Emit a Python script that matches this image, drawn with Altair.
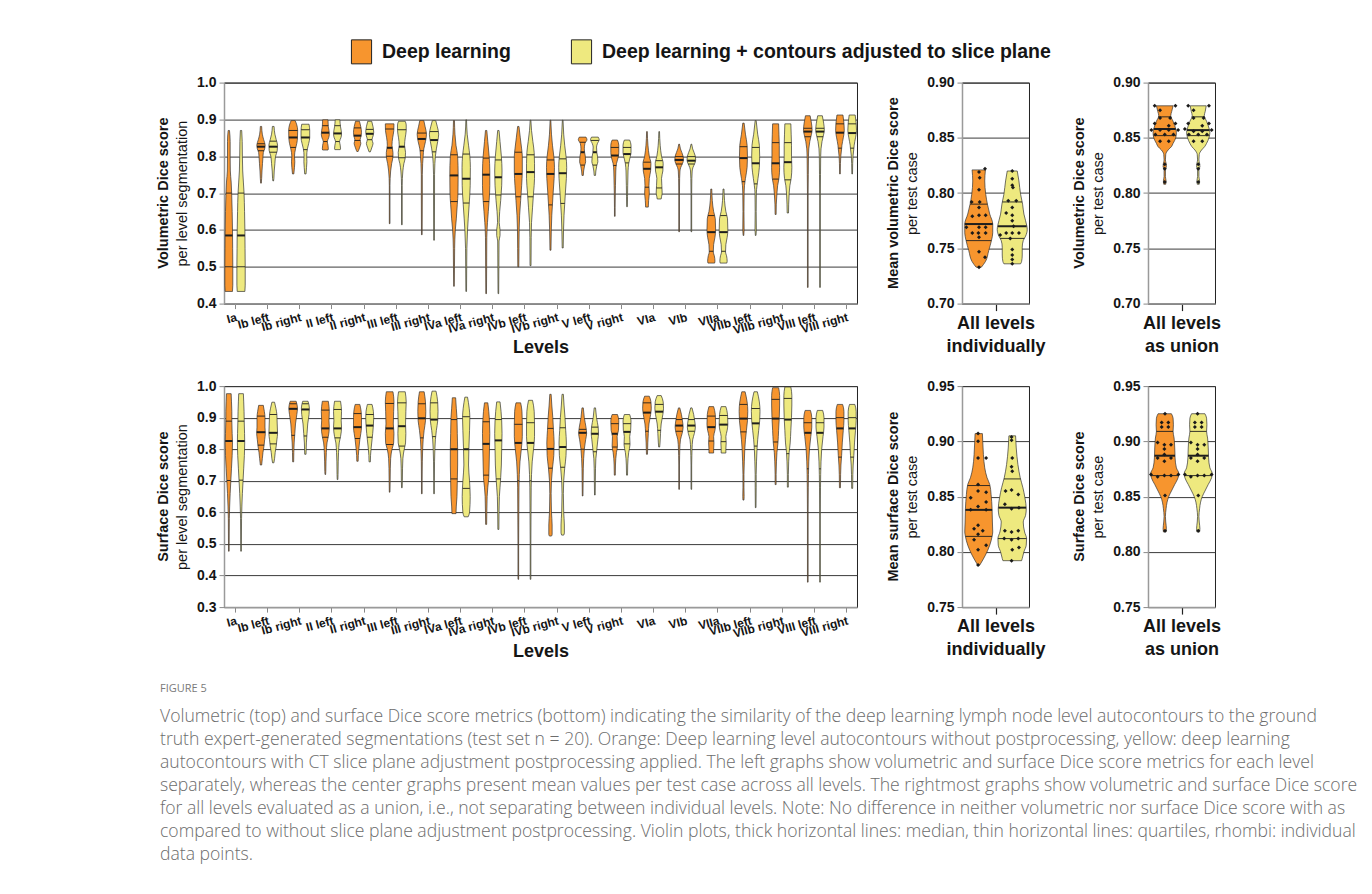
import altair as alt
import numpy as np
import pandas as pd

# ---------------------------------------------------------------- data
LEVELS = ["Ia", "Ib left", "Ib right", "II left", "II right", "III left", "III right",
          "IVa left", "IVa right", "IVb left", "IVb right", "V left", "V right",
          "VIa", "VIb", "VIIa", "VIIb left", "VIIb right", "VIII left", "VIII right"]
SERIES = ["Deep learning", "Deep learning + contours adjusted to slice plane"]
COLORS = ["#F7952E", "#EEE97F"]

# violin outlines: (score, relative violin width)
VOL_DL = {
    "Ia": [(0.870, 4), (0.84, 8), (0.80, 8), (0.76, 9), (0.73, 14), (0.70, 17), (0.65, 20), (0.60, 22), (0.55, 23), (0.50, 24), (0.45, 24), (0.433, 22)],
    "Ib left": [(0.881, 4), (0.86, 8), (0.845, 16), (0.83, 25), (0.82, 22), (0.81, 14), (0.80, 12), (0.78, 9), (0.76, 6), (0.74, 4), (0.727, 2)],
    "Ib right": [(0.897, 12), (0.885, 22), (0.87, 27), (0.85, 26), (0.835, 22), (0.82, 14), (0.80, 8), (0.785, 10), (0.77, 8), (0.752, 4)],
    "II left": [(0.899, 16), (0.88, 18), (0.87, 22), (0.86, 24), (0.85, 20), (0.84, 12), (0.83, 16), (0.82, 18), (0.817, 16)],
    "II right": [(0.895, 12), (0.88, 20), (0.865, 24), (0.855, 22), (0.845, 16), (0.835, 20), (0.825, 14), (0.815, 6), (0.813, 4)],
    "III left": [(0.888, 26), (0.87, 25), (0.85, 18), (0.83, 14), (0.81, 20), (0.80, 20), (0.78, 12), (0.76, 6), (0.74, 3), (0.72, 2), (0.617, 2)],
    "III right": [(0.897, 12), (0.88, 20), (0.86, 28), (0.84, 22), (0.82, 12), (0.80, 8), (0.78, 5), (0.75, 3), (0.70, 3), (0.587, 2)],
    "IVa left": [(0.897, 3), (0.86, 6), (0.83, 12), (0.80, 22), (0.75, 25), (0.70, 24), (0.67, 20), (0.63, 14), (0.60, 8), (0.55, 4), (0.50, 3), (0.447, 2)],
    "IVa right": [(0.870, 4), (0.84, 10), (0.80, 18), (0.76, 22), (0.72, 22), (0.68, 18), (0.62, 8), (0.58, 4), (0.50, 3), (0.427, 2)],
    "IVb left": [(0.881, 4), (0.85, 12), (0.82, 20), (0.80, 24), (0.76, 24), (0.72, 20), (0.68, 14), (0.64, 8), (0.60, 5), (0.55, 4), (0.50, 3)],
    "IVb right": [(0.898, 2), (0.86, 6), (0.83, 12), (0.80, 20), (0.77, 24), (0.74, 22), (0.70, 16), (0.67, 12), (0.64, 8), (0.60, 5), (0.545, 3)],
    "V left": [(0.852, 20), (0.845, 26), (0.835, 14), (0.82, 10), (0.81, 12), (0.80, 16), (0.785, 18), (0.775, 12), (0.76, 6), (0.748, 4)],
    "V right": [(0.844, 16), (0.83, 24), (0.81, 24), (0.80, 22), (0.78, 10), (0.76, 6), (0.72, 4), (0.70, 3), (0.66, 2), (0.637, 2)],
    "VIa": [(0.867, 2), (0.83, 6), (0.80, 14), (0.78, 24), (0.76, 22), (0.74, 14), (0.72, 12), (0.70, 14), (0.68, 10), (0.662, 8)],
    "VIb": [(0.833, 2), (0.82, 8), (0.80, 24), (0.79, 26), (0.78, 20), (0.77, 10), (0.76, 5), (0.74, 3), (0.70, 2), (0.595, 2)],
    "VIIa": [(0.711, 3), (0.68, 6), (0.65, 14), (0.63, 24), (0.60, 26), (0.58, 22), (0.56, 14), (0.54, 12), (0.53, 18), (0.515, 22), (0.510, 20)],
    "VIIb left": [(0.890, 4), (0.86, 12), (0.83, 22), (0.80, 24), (0.77, 22), (0.74, 12), (0.72, 6), (0.70, 4), (0.65, 3), (0.60, 4), (0.585, 2)],
    "VIIb right": [(0.888, 18), (0.86, 20), (0.83, 22), (0.80, 22), (0.77, 24), (0.74, 20), (0.72, 12), (0.70, 8), (0.67, 4), (0.642, 3)],
    "VIII left": [(0.910, 14), (0.89, 22), (0.87, 26), (0.86, 22), (0.84, 12), (0.82, 6), (0.80, 4), (0.75, 3), (0.70, 2), (0.444, 2)],
    "VIII right": [(0.912, 18), (0.89, 24), (0.87, 26), (0.85, 20), (0.83, 12), (0.82, 10), (0.80, 5), (0.78, 3), (0.752, 2)],
}
VOL_ADJ = {
    "Ia": [(0.870, 4), (0.84, 7), (0.80, 8), (0.76, 10), (0.73, 14), (0.70, 18), (0.65, 21), (0.60, 23), (0.55, 24), (0.50, 25), (0.45, 25), (0.433, 23)],
    "Ib left": [(0.881, 5), (0.86, 10), (0.845, 18), (0.83, 26), (0.815, 24), (0.80, 14), (0.78, 10), (0.76, 6), (0.74, 4), (0.733, 2)],
    "Ib right": [(0.887, 22), (0.87, 26), (0.85, 26), (0.835, 20), (0.82, 12), (0.80, 8), (0.785, 9), (0.77, 7), (0.752, 4)],
    "II left": [(0.899, 14), (0.88, 18), (0.87, 22), (0.86, 24), (0.85, 20), (0.84, 12), (0.83, 16), (0.82, 18), (0.818, 16)],
    "II right": [(0.895, 12), (0.88, 20), (0.865, 24), (0.855, 20), (0.845, 14), (0.835, 20), (0.825, 14), (0.812, 4)],
    "III left": [(0.895, 20), (0.885, 26), (0.87, 26), (0.85, 20), (0.83, 16), (0.81, 22), (0.795, 20), (0.78, 12), (0.76, 6), (0.74, 3), (0.72, 2), (0.614, 2)],
    "III right": [(0.897, 10), (0.88, 20), (0.86, 28), (0.84, 22), (0.82, 14), (0.80, 8), (0.78, 5), (0.75, 3), (0.70, 3), (0.572, 2)],
    "IVa left": [(0.899, 2), (0.86, 6), (0.83, 14), (0.80, 22), (0.77, 25), (0.72, 24), (0.67, 18), (0.63, 12), (0.60, 8), (0.55, 4), (0.50, 3), (0.433, 2)],
    "IVa right": [(0.870, 4), (0.84, 10), (0.80, 18), (0.76, 22), (0.72, 20), (0.68, 14), (0.65, 8), (0.62, 5), (0.60, 10), (0.585, 10), (0.57, 4), (0.50, 3), (0.427, 2)],
    "IVb left": [(0.898, 2), (0.87, 6), (0.84, 14), (0.81, 22), (0.78, 24), (0.74, 24), (0.70, 18), (0.66, 12), (0.62, 6), (0.58, 4), (0.503, 3)],
    "IVb right": [(0.898, 2), (0.86, 6), (0.83, 12), (0.80, 20), (0.77, 24), (0.74, 22), (0.70, 16), (0.67, 12), (0.64, 8), (0.60, 5), (0.551, 3)],
    "V left": [(0.852, 20), (0.845, 26), (0.835, 16), (0.825, 10), (0.81, 12), (0.80, 16), (0.785, 18), (0.775, 12), (0.76, 6), (0.748, 4)],
    "V right": [(0.844, 16), (0.83, 24), (0.81, 24), (0.80, 20), (0.78, 10), (0.76, 6), (0.72, 4), (0.69, 3), (0.663, 2)],
    "VIa": [(0.867, 2), (0.83, 6), (0.80, 14), (0.78, 24), (0.76, 22), (0.74, 14), (0.72, 16), (0.70, 18), (0.69, 14), (0.684, 12)],
    "VIb": [(0.833, 2), (0.82, 8), (0.80, 24), (0.79, 26), (0.78, 20), (0.77, 10), (0.76, 5), (0.74, 3), (0.70, 2), (0.595, 2)],
    "VIIa": [(0.711, 3), (0.68, 6), (0.65, 14), (0.63, 24), (0.60, 26), (0.58, 22), (0.56, 14), (0.54, 12), (0.53, 18), (0.515, 22), (0.510, 20)],
    "VIIb left": [(0.897, 3), (0.86, 12), (0.83, 22), (0.80, 24), (0.77, 22), (0.74, 14), (0.72, 8), (0.70, 4), (0.65, 3), (0.60, 4), (0.585, 2)],
    "VIIb right": [(0.888, 18), (0.86, 20), (0.83, 22), (0.80, 22), (0.77, 24), (0.74, 20), (0.72, 12), (0.70, 8), (0.67, 5), (0.646, 4)],
    "VIII left": [(0.910, 14), (0.89, 22), (0.87, 26), (0.86, 22), (0.84, 12), (0.82, 6), (0.80, 4), (0.75, 3), (0.70, 2), (0.444, 2)],
    "VIII right": [(0.912, 18), (0.89, 24), (0.87, 26), (0.85, 20), (0.83, 12), (0.82, 10), (0.80, 5), (0.78, 3), (0.752, 2)],
}
# (first quartile, median, third quartile)
VOL_DL_Q = {
    "Ia": (0.50, 0.585, 0.70), "Ib left": (0.815, 0.826, 0.834), "Ib right": (0.824, 0.851, 0.870),
    "II left": (0.840, 0.864, 0.883), "II right": (0.843, 0.856, 0.877), "III left": (0.800, 0.823, 0.874),
    "III right": (0.815, 0.847, 0.863), "IVa left": (0.677, 0.748, 0.804), "IVa right": (0.677, 0.750, 0.795),
    "IVb left": (0.690, 0.752, 0.811), "IVb right": (0.668, 0.752, 0.790), "V left": (0.776, 0.811, 0.838),
    "V right": (0.775, 0.802, 0.824), "VIa": (0.716, 0.766, 0.784), "VIb": (0.779, 0.790, 0.799),
    "VIIa": (0.542, 0.594, 0.639), "VIIb left": (0.731, 0.795, 0.826), "VIIb right": (0.738, 0.781, 0.837),
    "VIII left": (0.853, 0.867, 0.876), "VIII right": (0.822, 0.864, 0.888),
}
VOL_ADJ_Q = {
    "Ia": (0.50, 0.585, 0.70), "Ib left": (0.811, 0.826, 0.841), "Ib right": (0.818, 0.851, 0.872),
    "II left": (0.840, 0.862, 0.883), "II right": (0.845, 0.861, 0.873), "III left": (0.796, 0.826, 0.872),
    "III right": (0.812, 0.844, 0.867), "IVa left": (0.673, 0.739, 0.806), "IVa right": (0.695, 0.743, 0.790),
    "IVb left": (0.690, 0.757, 0.804), "IVb right": (0.672, 0.754, 0.793), "V left": (0.776, 0.811, 0.843),
    "V right": (0.782, 0.806, 0.824), "VIa": (0.714, 0.770, 0.788), "VIb": (0.779, 0.788, 0.799),
    "VIIa": (0.542, 0.594, 0.639), "VIIb left": (0.725, 0.781, 0.824), "VIIb right": (0.736, 0.784, 0.837),
    "VIII left": (0.853, 0.867, 0.876), "VIII right": (0.822, 0.863, 0.888),
}

SURF_DL = {
    "Ia": [(0.976, 14), (0.95, 16), (0.92, 18), (0.89, 18), (0.85, 20), (0.82, 22), (0.78, 20), (0.74, 16), (0.70, 12), (0.66, 8), (0.62, 5), (0.58, 3), (0.50, 2), (0.477, 2)],
    "Ib left": [(0.939, 14), (0.92, 20), (0.90, 24), (0.87, 24), (0.85, 26), (0.83, 22), (0.81, 18), (0.79, 12), (0.77, 8), (0.750, 4)],
    "Ib right": [(0.952, 18), (0.93, 26), (0.91, 22), (0.88, 14), (0.85, 10), (0.82, 6), (0.79, 4), (0.760, 3)],
    "II left": [(0.952, 18), (0.92, 24), (0.89, 22), (0.87, 24), (0.84, 18), (0.82, 10), (0.79, 6), (0.76, 4), (0.73, 3), (0.720, 2)],
    "II right": [(0.942, 14), (0.92, 22), (0.90, 24), (0.87, 24), (0.85, 20), (0.83, 14), (0.80, 8), (0.78, 5), (0.762, 4)],
    "III left": [(0.982, 20), (0.95, 26), (0.92, 24), (0.88, 22), (0.85, 26), (0.82, 24), (0.80, 14), (0.77, 6), (0.74, 4), (0.70, 3), (0.664, 2)],
    "III right": [(0.982, 14), (0.95, 22), (0.92, 24), (0.89, 22), (0.86, 14), (0.83, 8), (0.80, 5), (0.76, 3), (0.70, 2), (0.659, 2)],
    "IVa left": [(0.963, 10), (0.93, 14), (0.90, 18), (0.85, 20), (0.80, 22), (0.75, 22), (0.70, 20), (0.65, 18), (0.62, 14), (0.596, 12)],
    "IVa right": [(0.947, 10), (0.92, 16), (0.89, 20), (0.85, 22), (0.80, 20), (0.75, 18), (0.71, 16), (0.68, 10), (0.65, 6), (0.60, 4), (0.562, 3)],
    "IVb left": [(0.947, 14), (0.92, 22), (0.88, 24), (0.84, 24), (0.80, 18), (0.76, 10), (0.72, 6), (0.68, 4), (0.60, 3), (0.50, 2), (0.388, 2)],
    "IVb right": [(0.974, 4), (0.94, 8), (0.90, 14), (0.86, 18), (0.82, 22), (0.78, 20), (0.74, 12), (0.70, 6), (0.66, 4), (0.60, 6), (0.56, 10), (0.53, 10), (0.525, 6)],
    "V left": [(0.931, 4), (0.90, 10), (0.87, 20), (0.85, 24), (0.83, 18), (0.80, 10), (0.77, 6), (0.74, 4), (0.70, 3), (0.652, 2)],
    "V right": [(0.910, 16), (0.89, 24), (0.86, 22), (0.84, 14), (0.81, 16), (0.79, 10), (0.77, 6), (0.75, 4), (0.718, 3)],
    "VIa": [(0.968, 14), (0.95, 24), (0.93, 26), (0.91, 22), (0.88, 12), (0.85, 8), (0.82, 5), (0.80, 4), (0.784, 3)],
    "VIb": [(0.931, 4), (0.91, 14), (0.89, 20), (0.87, 24), (0.85, 18), (0.83, 8), (0.80, 4), (0.78, 3), (0.75, 2), (0.673, 2)],
    "VIIa": [(0.935, 14), (0.91, 24), (0.88, 26), (0.86, 22), (0.84, 14), (0.82, 16), (0.80, 14), (0.788, 14)],
    "VIIb left": [(0.982, 10), (0.95, 22), (0.92, 26), (0.89, 24), (0.86, 18), (0.83, 12), (0.80, 8), (0.76, 5), (0.72, 3), (0.68, 3), (0.65, 4), (0.639, 3)],
    "VIIb right": [(0.995, 18), (0.97, 24), (0.94, 24), (0.90, 22), (0.86, 18), (0.82, 14), (0.79, 8), (0.76, 5), (0.72, 3), (0.688, 3)],
    "VIII left": [(0.923, 16), (0.90, 24), (0.87, 24), (0.84, 18), (0.80, 10), (0.76, 6), (0.72, 4), (0.68, 3), (0.60, 2), (0.50, 2), (0.379, 2)],
    "VIII right": [(0.942, 16), (0.92, 24), (0.89, 24), (0.86, 20), (0.82, 14), (0.78, 10), (0.75, 6), (0.72, 4), (0.678, 3)],
}
SURF_ADJ = {
    "Ia": [(0.976, 14), (0.95, 16), (0.92, 18), (0.89, 19), (0.85, 21), (0.82, 22), (0.78, 20), (0.74, 16), (0.70, 12), (0.66, 8), (0.62, 5), (0.58, 3), (0.50, 2), (0.477, 2)],
    "Ib left": [(0.949, 8), (0.93, 16), (0.91, 22), (0.88, 24), (0.85, 26), (0.83, 22), (0.81, 18), (0.79, 12), (0.77, 8), (0.757, 4)],
    "Ib right": [(0.952, 16), (0.93, 24), (0.91, 22), (0.88, 14), (0.85, 10), (0.82, 6), (0.784, 4)],
    "II left": [(0.952, 18), (0.92, 24), (0.89, 22), (0.87, 24), (0.84, 18), (0.82, 10), (0.79, 6), (0.76, 4), (0.72, 3), (0.704, 2)],
    "II right": [(0.942, 14), (0.92, 22), (0.90, 24), (0.875, 22), (0.85, 18), (0.83, 14), (0.80, 8), (0.78, 5), (0.760, 4)],
    "III left": [(0.982, 20), (0.95, 26), (0.92, 24), (0.88, 22), (0.85, 24), (0.82, 22), (0.80, 14), (0.77, 6), (0.74, 4), (0.70, 3), (0.678, 2)],
    "III right": [(0.984, 12), (0.95, 22), (0.92, 24), (0.89, 22), (0.86, 14), (0.83, 8), (0.80, 5), (0.76, 3), (0.70, 2), (0.659, 2)],
    "IVa left": [(0.965, 8), (0.93, 18), (0.90, 22), (0.86, 20), (0.80, 16), (0.75, 14), (0.70, 20), (0.65, 24), (0.60, 20), (0.586, 12)],
    "IVa right": [(0.950, 10), (0.92, 16), (0.89, 20), (0.85, 22), (0.80, 20), (0.75, 18), (0.71, 14), (0.68, 10), (0.65, 6), (0.60, 4), (0.546, 3)],
    "IVb left": [(0.955, 12), (0.92, 22), (0.88, 24), (0.84, 24), (0.80, 18), (0.76, 10), (0.72, 6), (0.68, 4), (0.60, 3), (0.50, 2), (0.388, 2)],
    "IVb right": [(0.974, 4), (0.94, 8), (0.90, 14), (0.86, 18), (0.82, 22), (0.78, 20), (0.74, 12), (0.70, 6), (0.66, 4), (0.60, 6), (0.56, 10), (0.535, 10), (0.528, 6)],
    "V left": [(0.931, 4), (0.90, 10), (0.87, 20), (0.85, 22), (0.83, 18), (0.80, 12), (0.77, 6), (0.74, 4), (0.70, 3), (0.655, 2)],
    "V right": [(0.910, 16), (0.89, 24), (0.86, 22), (0.84, 16), (0.815, 18), (0.79, 10), (0.77, 6), (0.75, 4), (0.718, 3)],
    "VIa": [(0.970, 12), (0.95, 24), (0.93, 26), (0.91, 22), (0.88, 12), (0.85, 8), (0.82, 5), (0.807, 3)],
    "VIb": [(0.931, 4), (0.91, 14), (0.89, 20), (0.87, 24), (0.85, 18), (0.83, 8), (0.80, 4), (0.78, 3), (0.75, 2), (0.673, 2)],
    "VIIa": [(0.935, 14), (0.91, 24), (0.88, 26), (0.86, 22), (0.84, 14), (0.82, 16), (0.80, 14), (0.788, 14)],
    "VIIb left": [(0.982, 10), (0.95, 22), (0.92, 26), (0.89, 24), (0.86, 18), (0.83, 12), (0.80, 8), (0.76, 5), (0.72, 3), (0.68, 3), (0.615, 2)],
    "VIIb right": [(0.997, 18), (0.97, 24), (0.94, 24), (0.90, 22), (0.86, 18), (0.82, 14), (0.79, 8), (0.76, 5), (0.72, 3), (0.680, 3)],
    "VIII left": [(0.923, 16), (0.90, 24), (0.87, 24), (0.84, 18), (0.80, 10), (0.76, 6), (0.72, 4), (0.68, 3), (0.60, 2), (0.50, 2), (0.379, 2)],
    "VIII right": [(0.942, 16), (0.92, 24), (0.89, 24), (0.86, 20), (0.82, 14), (0.78, 10), (0.75, 6), (0.72, 4), (0.676, 3)],
}
SURF_DL_Q = {
    "Ia": (0.701, 0.826, 0.889), "Ib left": (0.813, 0.854, 0.905), "Ib right": (0.844, 0.928, 0.944),
    "II left": (0.838, 0.866, 0.924), "II right": (0.834, 0.870, 0.913), "III left": (0.815, 0.866, 0.945),
    "III right": (0.836, 0.898, 0.944), "IVa left": (0.706, 0.800, 0.894), "IVa right": (0.718, 0.817, 0.887),
    "IVb left": (0.700, 0.820, 0.879), "IVb right": (0.740, 0.801, 0.866), "V left": (0.800, 0.852, 0.863),
    "V right": (0.807, 0.849, 0.881), "VIa": (0.857, 0.916, 0.947), "VIb": (0.857, 0.875, 0.894),
    "VIIa": (0.826, 0.870, 0.905), "VIIb left": (0.855, 0.897, 0.942), "VIIb right": (0.823, 0.897, 0.958),
    "VIII left": (0.738, 0.852, 0.884), "VIII right": (0.775, 0.866, 0.900),
}
SURF_ADJ_Q = {
    "Ia": (0.702, 0.826, 0.889), "Ib left": (0.817, 0.852, 0.910), "Ib right": (0.842, 0.926, 0.944),
    "II left": (0.836, 0.866, 0.926), "II right": (0.838, 0.875, 0.910), "III left": (0.810, 0.873, 0.947),
    "III right": (0.840, 0.894, 0.947), "IVa left": (0.676, 0.800, 0.903), "IVa right": (0.706, 0.828, 0.894),
    "IVb left": (0.700, 0.820, 0.884), "IVb right": (0.743, 0.807, 0.868), "V left": (0.792, 0.849, 0.870),
    "V right": (0.817, 0.855, 0.881), "VIa": (0.860, 0.919, 0.942), "VIb": (0.857, 0.875, 0.894),
    "VIIa": (0.824, 0.878, 0.907), "VIIb left": (0.810, 0.882, 0.929), "VIIb right": (0.786, 0.894, 0.961),
    "VIII left": (0.738, 0.852, 0.884), "VIII right": (0.775, 0.866, 0.900),
}

# per-test-case summaries (center and right columns)
MEAN_VOL_DL = [(0.821, 40), (0.811, 36), (0.799, 42), (0.790, 52), (0.781, 66), (0.772, 84), (0.764, 84), (0.757, 76), (0.748, 60), (0.738, 40), (0.733, 16)]
MEAN_VOL_ADJ = [(0.820, 30), (0.811, 40), (0.799, 50), (0.790, 62), (0.781, 70), (0.775, 80), (0.767, 90), (0.761, 80), (0.757, 66), (0.751, 60), (0.744, 60), (0.738, 56), (0.736, 50)]
MEAN_VOL_DL_Q = (0.757, 0.772, 0.790)
MEAN_VOL_ADJ_Q = (0.759, 0.770, 0.792)
MEAN_VOL_DL_PTS = [0.822, 0.819, 0.814, 0.803, 0.792, 0.792, 0.787, 0.779, 0.780, 0.780, 0.769, 0.769, 0.769, 0.764, 0.764, 0.764, 0.760, 0.747, 0.742, 0.733]
MEAN_VOL_DL_JIT = [0.343, 0.254, 0.264, 0.254, 0.144, 0.264, 0.254, 0.154, 0.254, 0.353, 0.065, 0.254, 0.353, 0.154, 0.244, 0.353, 0.254, 0.254, 0.343, 0.254]
MEAN_VOL_ADJ_PTS = [0.820, 0.813, 0.807, 0.805, 0.793, 0.793, 0.787, 0.782, 0.780, 0.775, 0.770, 0.764, 0.764, 0.764, 0.762, 0.759, 0.749, 0.744, 0.740, 0.736]
MEAN_VOL_ADJ_JIT = [0.75, 0.75, 0.75, 0.76, 0.69, 0.81, 0.75, 0.66, 0.75, 0.75, 0.77, 0.66, 0.75, 0.85, 0.57, 0.72, 0.75, 0.75, 0.75, 0.75]

UNION_VOL_DL = [(0.879, 50), (0.874, 42), (0.870, 36), (0.865, 50), (0.861, 60), (0.858, 66), (0.855, 70), (0.850, 66), (0.845, 50), (0.842, 40), (0.839, 20), (0.835, 6), (0.830, 4), (0.827, 8), (0.824, 10), (0.821, 4), (0.815, 4), (0.811, 8), (0.808, 6)]
UNION_VOL_ADJ = [(0.879, 48), (0.874, 42), (0.870, 36), (0.865, 50), (0.861, 60), (0.858, 66), (0.855, 70), (0.850, 64), (0.845, 50), (0.842, 38), (0.839, 20), (0.835, 6), (0.830, 4), (0.827, 8), (0.824, 10), (0.821, 4), (0.815, 4), (0.811, 8), (0.808, 6)]
UNION_VOL_DL_Q = (0.852, 0.858, 0.869)
UNION_VOL_ADJ_Q = (0.852, 0.857, 0.869)
UNION_VOL_DL_PTS = [0.879, 0.879, 0.875, 0.868, 0.868, 0.863, 0.863, 0.861, 0.857, 0.857, 0.857, 0.857, 0.853, 0.853, 0.853, 0.847, 0.847, 0.826, 0.822, 0.810]
UNION_VOL_DL_JIT = [0.10, 0.41, 0.18, 0.18, 0.33, 0.10, 0.41, 0.31, 0.05, 0.18, 0.31, 0.45, 0.11, 0.25, 0.38, 0.18, 0.31, 0.25, 0.25, 0.25]
UNION_VOL_ADJ_PTS = [0.879, 0.879, 0.875, 0.868, 0.868, 0.863, 0.863, 0.861, 0.858, 0.856, 0.856, 0.857, 0.853, 0.853, 0.853, 0.847, 0.847, 0.826, 0.822, 0.810]
UNION_VOL_ADJ_JIT = [0.60, 0.91, 0.68, 0.68, 0.83, 0.60, 0.91, 0.81, 0.55, 0.68, 0.81, 0.95, 0.61, 0.75, 0.88, 0.68, 0.81, 0.75, 0.75, 0.75]

MEAN_SURF_DL = [(0.907, 22), (0.900, 24), (0.888, 28), (0.876, 36), (0.867, 50), (0.861, 66), (0.852, 74), (0.839, 80), (0.827, 82), (0.818, 84), (0.814, 80), (0.806, 66), (0.797, 40), (0.790, 14), (0.788, 6)]
MEAN_SURF_ADJ = [(0.905, 20), (0.894, 24), (0.879, 34), (0.867, 48), (0.858, 64), (0.849, 76), (0.839, 84), (0.833, 80), (0.827, 66), (0.818, 74), (0.812, 86), (0.806, 84), (0.800, 70), (0.794, 60), (0.792, 56)]
MEAN_SURF_DL_Q = (0.814, 0.838, 0.860)
MEAN_SURF_ADJ_Q = (0.812, 0.840, 0.866)
MEAN_SURF_DL_PTS = [0.907, 0.900, 0.885, 0.885, 0.861, 0.855, 0.854, 0.849, 0.845, 0.841, 0.838, 0.838, 0.824, 0.821, 0.819, 0.816, 0.811, 0.806, 0.802, 0.788]
MEAN_SURF_DL_JIT = [0.24, 0.24, 0.24, 0.36, 0.24, 0.24, 0.36, 0.13, 0.36, 0.24, 0.13, 0.36, 0.24, 0.18, 0.31, 0.24, 0.18, 0.36, 0.24, 0.24]
MEAN_SURF_ADJ_PTS = [0.904, 0.901, 0.885, 0.877, 0.873, 0.855, 0.856, 0.852, 0.843, 0.839, 0.840, 0.819, 0.818, 0.819, 0.812, 0.811, 0.812, 0.802, 0.804, 0.792]
MEAN_SURF_ADJ_JIT = [0.74, 0.74, 0.75, 0.74, 0.75, 0.65, 0.74, 0.84, 0.64, 0.74, 0.85, 0.64, 0.74, 0.84, 0.63, 0.74, 0.84, 0.75, 0.85, 0.74]

UNION_SURF_DL = [(0.925, 40), (0.921, 50), (0.915, 52), (0.909, 50), (0.903, 56), (0.894, 60), (0.885, 62), (0.876, 70), (0.871, 84), (0.867, 80), (0.861, 60), (0.855, 40), (0.850, 24), (0.845, 14), (0.839, 8), (0.832, 4), (0.827, 6), (0.821, 10), (0.818, 8)]
UNION_SURF_ADJ = [(0.925, 40), (0.921, 50), (0.915, 52), (0.909, 50), (0.903, 56), (0.894, 60), (0.885, 62), (0.876, 70), (0.871, 84), (0.867, 80), (0.861, 60), (0.855, 40), (0.850, 24), (0.845, 14), (0.839, 8), (0.832, 4), (0.827, 6), (0.821, 10), (0.818, 8)]
UNION_SURF_DL_Q = (0.869, 0.887, 0.909)
UNION_SURF_ADJ_Q = (0.869, 0.887, 0.909)
UNION_SURF_DL_PTS = [0.925, 0.917, 0.917, 0.913, 0.913, 0.899, 0.897, 0.897, 0.893, 0.885, 0.888, 0.885, 0.882, 0.870, 0.868, 0.869, 0.869, 0.870, 0.851, 0.819]
UNION_SURF_DL_JIT = [0.254, 0.204, 0.303, 0.204, 0.303, 0.144, 0.244, 0.343, 0.244, 0.144, 0.244, 0.343, 0.244, 0.045, 0.144, 0.244, 0.343, 0.453, 0.254, 0.254]
UNION_SURF_ADJ_PTS = [0.925, 0.917, 0.917, 0.913, 0.913, 0.899, 0.897, 0.897, 0.893, 0.885, 0.888, 0.885, 0.882, 0.870, 0.868, 0.869, 0.869, 0.870, 0.851, 0.819]
UNION_SURF_ADJ_JIT = [0.74, 0.70, 0.80, 0.70, 0.80, 0.64, 0.74, 0.84, 0.74, 0.64, 0.74, 0.84, 0.74, 0.55, 0.64, 0.74, 0.84, 0.95, 0.75, 0.75]

CAPTION_HEAD = "FIGURE 5"
CAPTION = [
    "Volumetric (top) and surface Dice score metrics (bottom) indicating the similarity of the deep learning lymph node level autocontours to the ground",
    "truth expert-generated segmentations (test set n = 20). Orange: Deep learning level autocontours without postprocessing, yellow: deep learning",
    "autocontours with CT slice plane adjustment postprocessing applied. The left graphs show volumetric and surface Dice score metrics for each level",
    "separately, whereas the center graphs present mean values per test case across all levels. The rightmost graphs show volumetric and surface Dice score",
    "for all levels evaluated as a union, i.e., not separating between individual levels. Note: No difference in neither volumetric nor surface Dice score with as",
    "compared to without slice plane adjustment postprocessing. Violin plots, thick horizontal lines: median, thin horizontal lines: quartiles, rhombi: individual",
    "data points.",
]

# ---------------------------------------------------------------- helpers
FONT = "Liberation Sans"
INK = "#151515"
LEVEL_OFFSET = (-0.19, 0.19)
LEVEL_WSCALE = 1 / 193.0
SUMMARY_CENTER = (0.25, 0.75)
SUMMARY_WSCALE = 1 / 402.0
CAPTION_SHIFT = -64


def violin_rows(profile, quart, center, wscale, vid, series):
    prof = sorted(profile)
    vs = np.array([p[0] for p in prof])
    ws = np.array([p[1] for p in prof]) * wscale
    shape = [dict(vid=vid, series=series, value=float(v), lo=center - w, hi=center + w)
             for v, w in zip(vs, ws)]
    stats = []
    for kind, q in zip(("quartile", "median", "quartile"), quart):
        w = float(np.interp(q, vs, ws))
        stats.append(dict(vid=vid, kind=kind, value=q, lo=center - w, hi=center + w))
    return shape, stats


def level_tables(p_dl, q_dl, p_adj, q_adj, tag):
    shapes, stats = [], []
    for i, lev in enumerate(LEVELS):
        for s, (p, q) in enumerate(((p_dl, q_dl), (p_adj, q_adj))):
            sh, st = violin_rows(p[lev], q[lev], i + LEVEL_OFFSET[s], LEVEL_WSCALE,
                                 f"{tag}{i:02d}{s}", SERIES[s])
            shapes += sh
            stats += st
    return pd.DataFrame(shapes), pd.DataFrame(stats)


def summary_tables(p_dl, q_dl, p_adj, q_adj, pts, tag):
    shapes, stats = [], []
    for s, (p, q) in enumerate(((p_dl, q_dl), (p_adj, q_adj))):
        sh, st = violin_rows(p, q, SUMMARY_CENTER[s], SUMMARY_WSCALE, f"{tag}{s}", SERIES[s])
        shapes += sh
        stats += st
    prow = []
    for vals, jit in pts:
        prow += [dict(value=v, x=j) for v, j in zip(vals, jit)]
    return pd.DataFrame(shapes), pd.DataFrame(stats), pd.DataFrame(prow)


color_enc = alt.Color(
    "series:N",
    scale=alt.Scale(domain=SERIES, range=COLORS),
    legend=alt.Legend(
        title=None, orient="none", legendX=125, legendY=-43.5, direction="horizontal",
        labelFont=FONT, labelFontWeight="bold", labelFontSize=19.5, labelColor=INK,
        symbolType="M-0.84,-1L0.84,-1L0.84,1L-0.84,1Z", symbolSize=576,
        symbolStrokeColor="#222222", symbolStrokeWidth=1, symbolOpacity=1,
        labelOffset=8, columnPadding=58, labelLimit=700,
    ),
)


def y_axis(values, fmt, title):
    return alt.Axis(values=values, format=fmt, title=title, titleFontWeight="normal",
                    titleFontSize=14.5, titleFont=FONT, titleColor=INK,
                    labelFont=FONT, labelFontSize=14, labelFontWeight="bold", labelColor=INK,
                    labelPadding=3, tickSize=5, tickColor="#888888", domainColor="#9a9a9a",
                    domainWidth=1.5, grid=True, gridColor="#3a3a3a", gridWidth=1,
                    titlePadding=7)


def panel(shape_df, stat_df, pts_df, xscale, yscale, xaxis, yaxis, bold_title, width, height):
    area = alt.Chart(shape_df).mark_area(
        orient="horizontal", interpolate="monotone", stroke="#333333", strokeWidth=0.7,
        opacity=1,
    ).encode(
        y=alt.Y("value:Q", scale=yscale, axis=yaxis),
        x=alt.X("lo:Q", scale=xscale, axis=xaxis, stack=None),
        x2="hi:Q",
        detail="vid:N",
        color=color_enc,
    )
    rules = alt.Chart(stat_df).mark_rule(color="#1e1e1e").encode(
        y=alt.Y("value:Q", scale=yscale, axis=yaxis),
        x=alt.X("lo:Q", scale=xscale, axis=xaxis),
        x2="hi:Q",
        strokeWidth=alt.StrokeWidth("kind:N", scale=alt.Scale(domain=["median", "quartile"], range=[2.0, 0.9]), legend=None),
    )
    layers = [area, rules]
    if pts_df is not None:
        layers.append(alt.Chart(pts_df).mark_point(shape="diamond", filled=True, color="#1a1a1a", size=16, opacity=1).encode(
            y=alt.Y("value:Q", scale=yscale, axis=yaxis),
            x=alt.X("x:Q", scale=xscale, axis=xaxis),
        ))
    return alt.layer(*layers).properties(
        width=width, height=height,
        title=alt.TitleParams(bold_title, orient="left", anchor="middle", font=FONT, fontSize=14.5,
                              fontWeight="bold", color=INK, offset=3),
    )


W_LEFT, W_SMALL, H = 633, 67, 221

level_x = alt.Scale(domain=[-0.34, 19.34], nice=False, zero=False)
level_xaxis = alt.Axis(values=list(range(len(LEVELS))),
                       labelExpr="[" + ",".join("'" + l + "'" for l in LEVELS) + "][datum.value]",
                       labelAngle=-15, labelAlign="right", labelBaseline="top", labelFont=FONT,
                       labelFontSize=12, labelFontWeight="bold", labelColor=INK, labelPadding=3,
                       labelOverlap=False, labelFlush=False, labelBound=False,
                       tickSize=5, tickColor="#888888", domainColor="#9a9a9a", domainWidth=1.5,
                       grid=False, title="Levels", titleFont=FONT, titleFontSize=18,
                       titleFontWeight="bold", titleColor=INK, titlePadding=3)
small_x = alt.Scale(domain=[0, 1], nice=False, zero=False)


def small_xaxis(lines):
    return alt.Axis(values=[0.5], labels=False, tickSize=7, tickColor="#222222", tickWidth=1.2,
                    domainColor="#9a9a9a", domainWidth=1.5, grid=False, title=lines,
                    titleFont=FONT, titleFontSize=18, titleFontWeight="bold", titleColor=INK,
                    titleLineHeight=23, titlePadding=3)


# ---- top row (volumetric)
vs, vq = level_tables(VOL_DL, VOL_DL_Q, VOL_ADJ, VOL_ADJ_Q, "v")
p_vol_lv = panel(vs, vq, None, level_x, alt.Scale(domain=[0.4, 1.0], nice=False, zero=False), level_xaxis,
                 y_axis([0.4, 0.5, 0.6, 0.7, 0.8, 0.9, 1.0], ".1f", "per level segmentation"),
                 "Volumetric Dice score", W_LEFT, H)

ms, mq, mp = summary_tables(MEAN_VOL_DL, MEAN_VOL_DL_Q, MEAN_VOL_ADJ, MEAN_VOL_ADJ_Q,
                            [(MEAN_VOL_DL_PTS, MEAN_VOL_DL_JIT), (MEAN_VOL_ADJ_PTS, MEAN_VOL_ADJ_JIT)], "mv")
p_vol_mean = panel(ms, mq, mp, small_x, alt.Scale(domain=[0.70, 0.90], nice=False, zero=False),
                   small_xaxis(["All levels", "individually"]),
                   y_axis([0.70, 0.75, 0.80, 0.85, 0.90], ".2f", "per test case"),
                   "Mean volumetric Dice score", W_SMALL, H)

us, uq, up = summary_tables(UNION_VOL_DL, UNION_VOL_DL_Q, UNION_VOL_ADJ, UNION_VOL_ADJ_Q,
                            [(UNION_VOL_DL_PTS, UNION_VOL_DL_JIT), (UNION_VOL_ADJ_PTS, UNION_VOL_ADJ_JIT)], "uv")
p_vol_union = panel(us, uq, up, small_x, alt.Scale(domain=[0.70, 0.90], nice=False, zero=False),
                    small_xaxis(["All levels", "as union"]),
                    y_axis([0.70, 0.75, 0.80, 0.85, 0.90], ".2f", "per test case"),
                    "Volumetric Dice score", W_SMALL, H)

# ---- bottom row (surface)
ss, sq = level_tables(SURF_DL, SURF_DL_Q, SURF_ADJ, SURF_ADJ_Q, "s")
p_surf_lv = panel(ss, sq, None, level_x, alt.Scale(domain=[0.3, 1.0], nice=False, zero=False), level_xaxis,
                  y_axis([0.3, 0.4, 0.5, 0.6, 0.7, 0.8, 0.9, 1.0], ".1f", "per level segmentation"),
                  "Surface Dice score", W_LEFT, H)

ms2, mq2, mp2 = summary_tables(MEAN_SURF_DL, MEAN_SURF_DL_Q, MEAN_SURF_ADJ, MEAN_SURF_ADJ_Q,
                               [(MEAN_SURF_DL_PTS, MEAN_SURF_DL_JIT), (MEAN_SURF_ADJ_PTS, MEAN_SURF_ADJ_JIT)], "ms")
p_surf_mean = panel(ms2, mq2, mp2, small_x, alt.Scale(domain=[0.75, 0.95], nice=False, zero=False),
                    small_xaxis(["All levels", "individually"]),
                    y_axis([0.75, 0.80, 0.85, 0.90, 0.95], ".2f", "per test case"),
                    "Mean surface Dice score", W_SMALL, H)

us2, uq2, up2 = summary_tables(UNION_SURF_DL, UNION_SURF_DL_Q, UNION_SURF_ADJ, UNION_SURF_ADJ_Q,
                               [(UNION_SURF_DL_PTS, UNION_SURF_DL_JIT), (UNION_SURF_ADJ_PTS, UNION_SURF_ADJ_JIT)], "us")
p_surf_union = panel(us2, uq2, up2, small_x, alt.Scale(domain=[0.75, 0.95], nice=False, zero=False),
                     small_xaxis(["All levels", "as union"]),
                     y_axis([0.75, 0.80, 0.85, 0.90, 0.95], ".2f", "per test case"),
                     "Surface Dice score", W_SMALL, H)

row1 = alt.hconcat(p_vol_lv, alt.hconcat(p_vol_mean, p_vol_union, spacing=25), spacing=26)
row2 = alt.hconcat(p_surf_lv, alt.hconcat(p_surf_mean, p_surf_union, spacing=25), spacing=26)

cap_df = pd.DataFrame({"line": list(range(len(CAPTION))), "text": CAPTION})
caption = alt.Chart(cap_df).mark_text(
    align="left", baseline="middle", font="Open Sans", fontWeight=300, fontSize=17.6, color="#6c6c6c",
).encode(
    y=alt.Y("line:O", axis=None, scale=alt.Scale(type="point", padding=0.5)),
    x=alt.value(CAPTION_SHIFT),
    text="text:N",
).properties(
    width=1000, height=23 * len(CAPTION),
    title=alt.TitleParams(CAPTION_HEAD, anchor="start", font="Open Sans", fontSize=11, fontWeight=400,
                          color="#7a7a7a", offset=12),
    view=alt.ViewBackground(strokeOpacity=0),
)

plots = alt.vconcat(row1, row2, spacing=20.5)
chart = alt.vconcat(plots, caption, spacing=21).properties(
    padding={"left": 147, "top": 30.6, "right": 0, "bottom": 0},
).configure_view(stroke="#222222", strokeWidth=1)

chart.save("out.html", embed_options={"renderer": "svg", "actions": False})
